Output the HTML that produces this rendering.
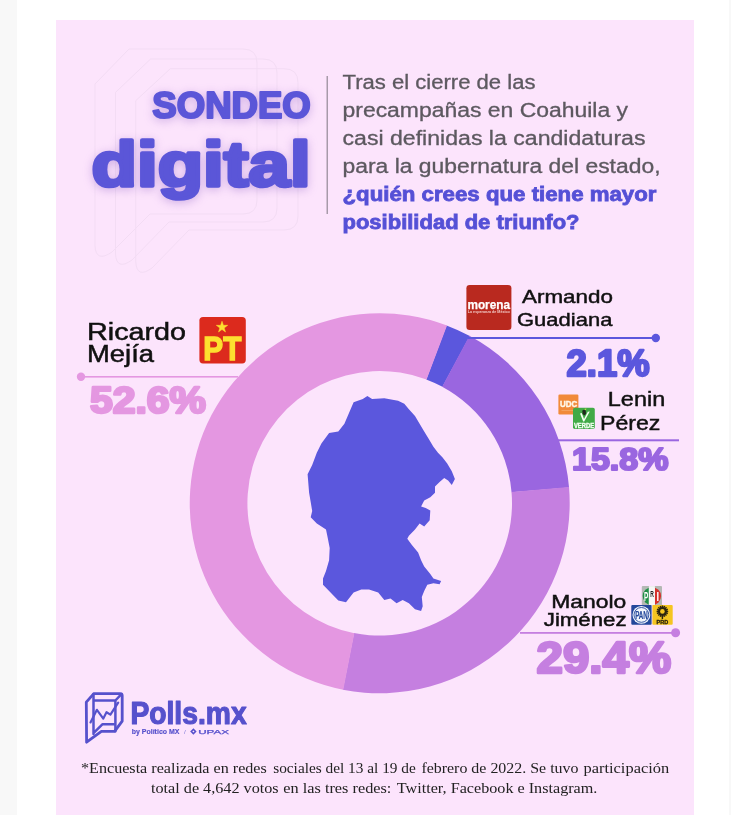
<!DOCTYPE html>
<html lang="es">
<head>
<meta charset="utf-8">
<title>Sondeo digital</title>
<style>
html,body{margin:0;padding:0;background:#fff;}
body{width:731px;height:815px;overflow:hidden;font-family:"Liberation Sans",sans-serif;}
svg{display:block;}
.sans{font-family:"Liberation Sans",sans-serif;}
.serif{font-family:"Liberation Serif",serif;}
.b{font-weight:700;}
.glow{filter:drop-shadow(0 2px 5px rgba(130,80,190,.36));}
</style>
</head>
<body>
<svg width="731" height="815" viewBox="0 0 731 815">
  <!-- page background -->
  <rect x="0" y="0" width="731" height="815" fill="#ffffff"/>
  <rect x="0" y="0" width="17" height="815" fill="#f8f8f8"/>
  <rect x="729" y="0" width="2" height="815" fill="#f8f8f8"/>
  <!-- pink card -->
  <rect x="56" y="20" width="638" height="795" fill="#fce4fc"/>

  <!-- faint speech bubble outlines -->
  <g fill="none" stroke="#f3dcf4" stroke-width="1">
    <path d="M129,49 H243 Q257,49 257,63 V200 Q257,214 243,214 H150 L112,252 Q96,263 95,246 V84 Z"/>
    <path d="M150.6,59 H263 Q277,59 277,73 V208 Q277,222 263,222 H169 L132,260 Q116.5,271 115.5,254 V92.4 Z"/>
    <path d="M170.3,68.7 H284 Q298,68.7 298,82.7 V216 Q298,230 284,230 H189 L152,268 Q136.8,279 135.8,262 V100.6 Z"/>
  </g>

  <!-- title -->
  <g class="glow">
    <text class="sans b" x="152.3" y="117.8" font-size="37" fill="#5b56d8" stroke="#5b56d8" stroke-width="2.2" stroke-linejoin="round" textLength="158.5" lengthAdjust="spacingAndGlyphs">SONDEO</text>
    <text class="sans b" x="91.6" y="186.4" font-size="62.7" fill="#5b56d8" stroke="#5b56d8" stroke-width="3.6" stroke-linejoin="round" textLength="219" lengthAdjust="spacingAndGlyphs">digital</text>
  </g>

  <!-- divider -->
  <rect x="326.5" y="76" width="1.5" height="138" fill="#a79aa9"/>

  <!-- paragraph -->
  <g class="sans" font-size="19.5" fill="#5d5960" stroke="#5d5960" stroke-width=".3">
    <text x="342.5" y="89.2" textLength="193" lengthAdjust="spacingAndGlyphs">Tras el cierre de las</text>
    <text x="342.5" y="117" textLength="285.5" lengthAdjust="spacingAndGlyphs">precampañas en Coahuila y</text>
    <text x="342.5" y="144.9" textLength="303" lengthAdjust="spacingAndGlyphs">casi definidas la candidaturas</text>
    <text x="342.5" y="172.8" textLength="318" lengthAdjust="spacingAndGlyphs">para la gubernatura del estado,</text>
  </g>
  <g class="sans b" font-size="19.5" fill="#5550d6" stroke="#5550d6" stroke-width=".8">
    <text x="342.5" y="200.8" textLength="314" lengthAdjust="spacingAndGlyphs">¿quién crees que tiene mayor</text>
    <text x="342.5" y="228.7" textLength="237" lengthAdjust="spacingAndGlyphs">posibilidad de triunfo?</text>
  </g>

  <!-- donut -->
  <path d="M446.55,325.45 A190,190 0 0 1 469.83,336.04 L442.46,386.83 A132.3,132.3 0 0 0 426.25,379.46 Z" fill="#5b57dd"/>
<path d="M469.39,335.80 A190,190 0 0 1 569.05,487.58 L511.55,492.35 A132.3,132.3 0 0 0 442.15,386.67 Z" fill="#9a66e0"/>
<path d="M569.01,487.09 A190,190 0 0 1 342.79,689.68 L354.00,633.08 A132.3,132.3 0 0 0 511.52,492.01 Z" fill="#c57fe0"/>
<path d="M343.28,689.78 A190,190 0 1 1 447.02,325.62 L426.57,379.58 A132.3,132.3 0 1 0 354.34,633.15 Z" fill="#e497e1"/>

  <!-- Coahuila map -->
  <polygon points="367.4,396.1 372.1,399.1 384.3,398.2 398.1,400.7 404.3,403.8 408.9,409.3 415.0,416.0 419.6,423.7 424.2,431.4 428.8,439.0 433.4,446.7 438.0,452.8 442.6,457.4 447.2,463.6 451.8,471.3 454.9,478.9 451.8,485.1 448.1,480.5 444.2,478.0 439.6,482.0 435.0,486.6 435.0,492.7 430.3,497.3 424.2,500.4 421.1,506.5 425.7,508.1 430.3,510.5 429.7,520.3 424.2,526.5 419.6,523.4 415.0,529.6 408.9,535.7 407.3,538.8 411.9,544.9 418.1,552.6 421.1,560.2 424.2,566.4 430.3,574.0 433.4,578.6 441.1,581.1 439.6,584.2 433.4,583.2 427.3,584.8 424.2,590.9 421.8,597.1 422.7,606.3 421.1,610.9 415.0,609.3 408.9,603.2 402.7,600.1 396.6,603.2 390.5,598.6 384.3,600.1 378.2,592.5 369.0,589.4 361.3,589.4 353.6,592.5 346.0,602.3 338.3,600.4 329.1,590.9 323.0,584.8 323.0,578.6 326.0,571.0 329.1,560.2 329.7,548.0 327.6,537.2 326.0,529.6 316.8,523.4 310.7,517.3 312.2,511.1 310.7,501.9 309.1,492.7 307.6,474.3 312.2,465.1 316.8,452.8 321.4,443.6 329.1,432.9 338.3,431.4 344.4,423.7 349.0,413.0 353.6,402.2 362.8,399.1" fill="#5b57dd"/>

  <!-- Ricardo Mejía -->
  <g class="sans" font-size="23.5" fill="#111" stroke="#111" stroke-width=".5">
    <text x="87" y="339.5" textLength="99" lengthAdjust="spacingAndGlyphs">Ricardo</text>
    <text x="87" y="361.8" textLength="67" lengthAdjust="spacingAndGlyphs">Mejía</text>
  </g>
  <!-- PT logo -->
  <g>
    <rect x="199.4" y="317" width="46.4" height="46.4" rx="3.6" fill="#dc2a1d"/>
    <polygon points="222.0,321.2 223.4,325.3 227.7,325.3 224.2,327.9 225.5,332.0 222.0,329.5 218.5,332.0 219.8,327.9 216.3,325.3 220.6,325.3" fill="#fde02f" stroke="#fde02f" stroke-width=".5" stroke-linejoin="round"/>
    <text class="sans b" x="203.3" y="359.7" font-size="33" fill="#fde02f" stroke="#fde02f" stroke-width="1.4" textLength="38" lengthAdjust="spacingAndGlyphs">PT</text>
  </g>
  <rect x="81" y="376" width="157" height="1.6" fill="#e497e1"/>
  <circle cx="81" cy="376.8" r="4.2" fill="#e497e1"/>
  <text class="sans b" x="90" y="412.6" font-size="36.5" fill="#e497e1" stroke="#e497e1" stroke-width="2.6" stroke-linejoin="round" textLength="116" lengthAdjust="spacingAndGlyphs">52.6%</text>

  <!-- Armando Guadiana -->
  <g>
    <rect x="466.4" y="285" width="45" height="45" rx="3.3" fill="#b9291f"/>
    <text class="sans b" x="467.4" y="308.6" font-size="12.4" fill="#fff" stroke="#fff" stroke-width=".25" textLength="42.6" lengthAdjust="spacingAndGlyphs">morena</text>
    <text class="sans b" x="467.8" y="313" font-size="3.6" fill="#f2c9c5" textLength="42" lengthAdjust="spacingAndGlyphs">La esperanza de México</text>
  </g>
  <g class="sans" font-size="19" fill="#111" stroke="#111" stroke-width=".45">
    <text x="522" y="303" textLength="91" lengthAdjust="spacingAndGlyphs">Armando</text>
    <text x="517" y="325.8" textLength="95.4" lengthAdjust="spacingAndGlyphs">Guadiana</text>
  </g>
  <rect x="468" y="337" width="188" height="2" fill="#5b57dd"/>
  <circle cx="655.8" cy="338" r="4.2" fill="#5b57dd"/>
  <text class="sans b" x="566.6" y="376.2" font-size="37.5" fill="#5b57dd" stroke="#5b57dd" stroke-width="2.4" stroke-linejoin="round" textLength="83" lengthAdjust="spacingAndGlyphs">2.1%</text>

  <!-- Lenin Pérez -->
  <g>
    <rect x="558.4" y="394.5" width="20" height="20" rx="1.2" fill="#f18a3a"/>
    <text class="sans b" x="560" y="407.2" font-size="8.4" fill="#fff6e8" stroke="#fff6e8" stroke-width=".45" textLength="17.2" lengthAdjust="spacingAndGlyphs">UDC</text>
    <rect x="561.5" y="410" width="14" height=".6" fill="#f7b377"/>
    <rect x="573" y="407.8" width="21.8" height="21.2" rx="1.8" fill="#41aa47"/>
    <path d="M580,413.4 L581.8,413 L584,419 L587.8,411.8 L589.8,411.6 L584.2,421.6 L583.2,421.6 Z" fill="#f4fff2"/>
    <path d="M582.2,410.8 q1.8,-1.8 3.6,-.2 l.2,3.4 l-1.8,1.6 l-1.6,-1.6z" fill="#1d2a1c"/>
    <path d="M584.2,409 l2.2,-.6 l-.6,1.8z" fill="#cfe14a"/>
    <text class="sans b" x="573.9" y="427.8" font-size="6.6" fill="#f4fff2" stroke="#f4fff2" stroke-width=".35" textLength="20.2" lengthAdjust="spacingAndGlyphs">VERDE</text>
  </g>
  <g class="sans" font-size="20.5" fill="#111" stroke="#111" stroke-width=".45">
    <text x="607.8" y="406.2" textLength="57.4" lengthAdjust="spacingAndGlyphs">Lenin</text>
    <text x="600" y="430.4" textLength="60.4" lengthAdjust="spacingAndGlyphs">Pérez</text>
  </g>
  <rect x="556" y="439.3" width="123" height="2" fill="#9a66e0"/>
  <text class="sans b" x="572" y="469.8" font-size="32" fill="#9a66e0" stroke="#9a66e0" stroke-width="2.2" stroke-linejoin="round" textLength="96.5" lengthAdjust="spacingAndGlyphs">15.8%</text>

  <!-- Manolo Jiménez -->
  <g class="sans" font-size="18" fill="#111" stroke="#111" stroke-width=".45">
    <text x="551.2" y="607.7" textLength="75" lengthAdjust="spacingAndGlyphs">Manolo</text>
    <text x="543.8" y="625.5" textLength="82.8" lengthAdjust="spacingAndGlyphs">Jiménez</text>
  </g>
  <g>
    <!-- PRI -->
    <rect x="641.8" y="586.1" width="20.2" height="19.3" rx="1" fill="#b4b8b4"/>
    <clipPath id="pric"><ellipse cx="651.9" cy="596.1" rx="9.2" ry="8.9"/></clipPath>
    <g clip-path="url(#pric)">
      <rect x="642" y="586" width="6.9" height="20" fill="#1f8f46"/>
      <rect x="648.9" y="586" width="6" height="20" fill="#f6f6f4"/>
      <rect x="654.9" y="586" width="8" height="20" fill="#d5302b"/>
    </g>
    <rect x="648.9" y="586.1" width="6" height="19.3" fill="#f6f6f4"/>
    <text class="sans b" x="643.9" y="601" font-size="12" fill="#fff" textLength="4.2" lengthAdjust="spacingAndGlyphs">P</text>
    <text class="sans b" x="650.3" y="596.6" font-size="9" fill="#222" textLength="3.6" lengthAdjust="spacingAndGlyphs">R</text>
    <text class="sans b" x="656.4" y="601" font-size="12" fill="#fff" textLength="2.6" lengthAdjust="spacingAndGlyphs">I</text>
    <!-- PAN -->
    <rect x="631.3" y="604.9" width="20.3" height="19.9" rx="1" fill="#23479b"/>
    <circle cx="641.4" cy="614.9" r="8.9" fill="#f3f6fc"/>
    <circle cx="641.4" cy="614.9" r="7.4" fill="none" stroke="#23479b" stroke-width=".9"/>
    <text class="sans b" x="635.2" y="619" font-size="11.6" fill="#23479b" stroke="#23479b" stroke-width=".2" textLength="12.6" lengthAdjust="spacingAndGlyphs">PAN</text>
    <!-- PRD -->
    <rect x="652.4" y="604.9" width="20.3" height="19.9" rx="1" fill="#f4c521"/>
    <g stroke="#2b2410" stroke-width="1.5" stroke-linecap="butt">
      <path d="M662.4,605.6 v11.6 M656.6,611.4 h11.6 M658.3,607.3 l8.2,8.2 M666.5,607.3 l-8.2,8.2 M660.2,606 l4.4,10.8 M664.6,606 l-4.4,10.8 M657,609.2 l10.8,4.4 M657,613.6 l10.8,-4.4"/>
    </g>
    <circle cx="662.4" cy="611.4" r="3.6" fill="#2b2410"/>
    <circle cx="662.4" cy="611.4" r="2.3" fill="#f4c521"/>
    <rect x="661.7" y="616" width="1.4" height="3" fill="#2b2410"/>
    <text class="sans b" x="656.6" y="623.6" font-size="5.6" fill="#2b2410" stroke="#2b2410" stroke-width=".3" textLength="11.6" lengthAdjust="spacingAndGlyphs">PRD</text>
  </g>
  <rect x="520" y="632" width="156" height="1.8" fill="#c57fe0"/>
  <circle cx="675.6" cy="632.8" r="4.5" fill="#c57fe0"/>
  <text class="sans b" x="536.5" y="673.4" font-size="44.5" fill="#c57fe0" stroke="#c57fe0" stroke-width="2.7" stroke-linejoin="round" textLength="134.6" lengthAdjust="spacingAndGlyphs">29.4%</text>

  <!-- Polls.mx logo -->
  <g fill="none" stroke="#5651cc" stroke-width="2.8" stroke-linejoin="round" stroke-linecap="round">
    <path d="M86.3,702.2 L93.8,693.6 H120.2 Q122.2,693.6 122.2,695.6 V721.1 L114.6,731.4 H101.4 L86.6,742.2 Z"/>
    <path d="M93.5,694 V734 M93.5,700.5 H115.4 V731.2 M115.4,700.5 L121.4,694.2 M115.4,724.2 H102.6 L93.5,733.2" stroke-width="2.5"/>
    <path d="M90.5,722.4 L96.9,709.8 L103.3,718.6 L106.5,712.2 L110.4,714.6 L118.2,702.6" stroke-width="2.2"/>
  </g>
  <text class="sans b" x="130.4" y="724" font-size="31" fill="#5651cc" stroke="#5651cc" stroke-width="1.2" stroke-linejoin="round" textLength="116.2" lengthAdjust="spacingAndGlyphs">Polls.mx</text>
  <text class="sans b" x="131.8" y="734.3" font-size="6.4" fill="#5651cc" stroke="#5651cc" stroke-width=".15" textLength="47.6" lengthAdjust="spacingAndGlyphs">by Político MX</text>
  <text class="sans" x="184" y="734.3" font-size="6.2" fill="#7d79d6">/</text>
  <path d="M193.4,728.3 l3.2,3.2 l-3.2,3.2 l-3.2,-3.2z" fill="#5651cc"/>
  <path d="M193.4,730.4 l1.1,1.1 l-1.1,1.1 l-1.1,-1.1z" fill="#fce4fc"/>
  <text class="sans" x="198.2" y="734.2" font-size="6" fill="#5651cc" stroke="#5651cc" stroke-width=".25" textLength="31" lengthAdjust="spacingAndGlyphs">UPAX</text>

  <!-- footnote -->
  <g class="serif" font-size="15.3" fill="#222">
    <text x="81" y="773.4" textLength="185.8" lengthAdjust="spacingAndGlyphs">*Encuesta realizada en redes</text>
    <text x="273.2" y="773.4" textLength="142.6" lengthAdjust="spacingAndGlyphs">sociales del 13 al 19 de</text>
    <text x="421.4" y="773.4" textLength="157.1" lengthAdjust="spacingAndGlyphs">febrero de 2022. Se tuvo</text>
    <text x="583.5" y="773.4" textLength="85.7" lengthAdjust="spacingAndGlyphs">participación</text>
    <text x="151" y="792.5" textLength="127.6" lengthAdjust="spacingAndGlyphs">total de 4,642 votos</text>
    <text x="283.3" y="792.5" textLength="108.1" lengthAdjust="spacingAndGlyphs">en las tres redes:</text>
    <text x="396.8" y="792.5" textLength="200.6" lengthAdjust="spacingAndGlyphs">Twitter, Facebook e Instagram.</text>
  </g>
</svg>
</body>
</html>
